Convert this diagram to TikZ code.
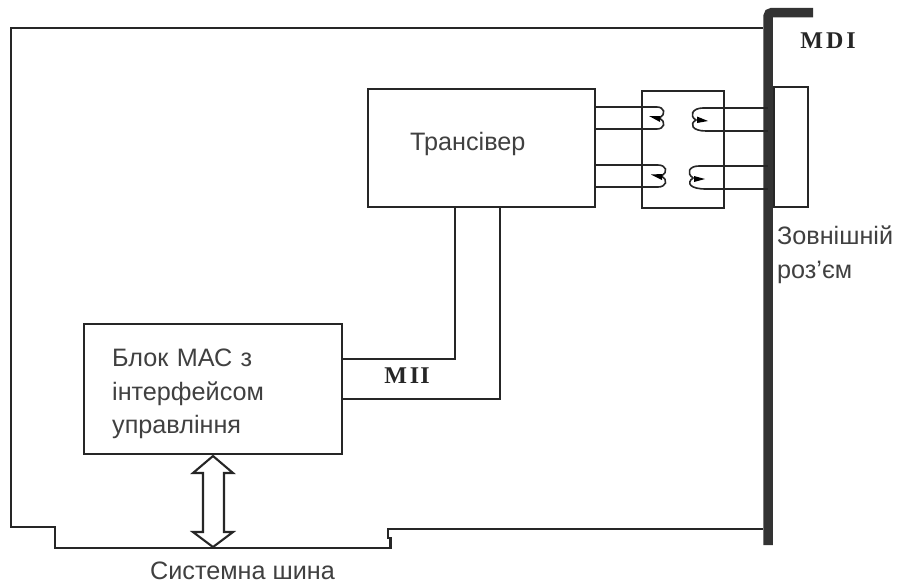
\documentclass[tikz,border=0pt]{standalone}
\usepackage{fontspec}
\setmainfont{Liberation Sans}
\newfontfamily\serifbold[Ligatures=TeX]{Liberation Serif}
\newcommand{\lbl}{\fontsize{25.2}{33.5}\selectfont}
\newcommand{\bsf}{\fontsize{24}{26}\selectfont\serifbold\bfseries}
\tikzset{
  every picture/.style={x=1pt,y=-1pt},
  ln/.style={draw=black!85,line width=2.1pt,line join=miter},
  boxn/.style={ln,fill=white,inner sep=0pt,anchor=north west},
  txt/.style={inner sep=0pt,anchor=west,align=left,text=black!75,font=\lbl},
  bold/.style={inner sep=0pt,text=black!85,font=\bsf},
  coil/.style={draw=black!85,line width=1.6pt},
  core/.style={fill=black,draw=none}
}
\begin{document}
\begin{tikzpicture}
\useasboundingbox (0,0) rectangle (897,584);
\fill[white] (0,0) rectangle (897,584);
% board outline
\coordinate (boardTop) at (763,28);
\coordinate (boardBot) at (763,529);
\draw[ln] (boardTop) -- (11,28) -- (11,527) -- (55,527) -- (55,548) -- (390.5,548) -- (390.5,538) -- (388,538) -- (388,529) -- (boardBot);
% boxes
\node[boxn,minimum width=227pt,minimum height=118pt] (trx) at (367,88) {};
\node[boxn,minimum width=82pt,minimum height=117pt] (xfmr) at (641,90) {};
\node[boxn,minimum width=34pt,minimum height=120pt] (conn) at (773,86) {};
\node[boxn,minimum width=258pt,minimum height=130pt] (mac) at (83,323) {};
% MDI bar
\node[inner sep=0pt,minimum width=8pt,minimum height=0pt] (bar) at (768,300) {};
\draw[draw=black!80,line width=9.5pt,rounded corners=4pt] (768,545) -- (bar.center) -- (768,12.5) -- (813,12.5);
% transformer windings, left
\coordinate (a1) at (657,107); \coordinate (a2) at (657,129);
\coordinate (b1) at (658,165); \coordinate (b2) at (658,187);
% right
\coordinate (c1) at (703,108); \coordinate (c2) at (706,131);
\coordinate (d1) at (699,166); \coordinate (d2) at (706,189);
\draw[ln] (trx.east |- a1) -- (a1);
\draw[ln] (trx.east |- a2) -- (a2);
\draw[ln] (trx.east |- b1) -- (b1);
\draw[ln] (trx.east |- b2) -- (b2);
\draw[ln] (c1) -- (bar.center |- c1);
\draw[ln] (c2) -- (bar.center |- c2);
\draw[ln] (d1) -- (bar.center |- d1);
\draw[ln] (d2) -- (bar.center |- d2);
\draw[coil] (a1) .. controls (664,107) and (667,114) .. (659,118) .. controls (667,122) and (664,129) .. (a2);
\draw[coil] (b1) .. controls (666,165) and (669,172) .. (661,176) .. controls (669,180) and (666,187) .. (b2);
\draw[coil] (c1) .. controls (692,108) and (689,116) .. (696,120) .. controls (689,124) and (692,131) .. (c2);
\draw[coil] (d1) .. controls (689,166) and (686,173) .. (693,178) .. controls (686,183) and (690,189) .. (d2);
\fill[core] (649,116) -- (660,116) -- (660,122) -- cycle;
\fill[core] (651,174.5) -- (662,174) -- (662,180) -- cycle;
\fill[core] (697,116.5) -- (708,121) -- (697,123) -- cycle;
\fill[core] (694,176) -- (705,179) -- (694,182) -- cycle;
% MII
\draw[ln] (mac.east |- 0,359) -- (455,359) -- (trx.south -| 455,0);
\draw[ln] (mac.east |- 0,399) -- (500,399) -- (trx.south -| 500,0);
% system bus arrow
\coordinate (busTop) at (213,456);
\coordinate (busBot) at (213,547);
\draw[ln,fill=white] (busTop) -- (233,473) -- (224,473) -- (224,532) -- (233,532) -- (busBot) -- (193,532) -- (203,532) -- (203,473) -- (193,473) -- cycle;
% texts
\node[txt] (t1) at (410,144) {Трансівер};
\node[txt,text width=228pt] (t2) at (112,394) {Блок МАС з\\інтерфейсом\\управління};
\node[txt,text width=120pt] (t3) at (777,255) {Зовнішній\\роз'єм};
\node[txt,anchor=base west] (t4) at (150,579) {Системна шина};
\node[bold] (t5) at (828,41) {M\kern3pt D\kern3pt I};
\node[bold] (t6) at (407,376) {M\kern3pt I\kern1pt I};
\end{tikzpicture}
\end{document}
